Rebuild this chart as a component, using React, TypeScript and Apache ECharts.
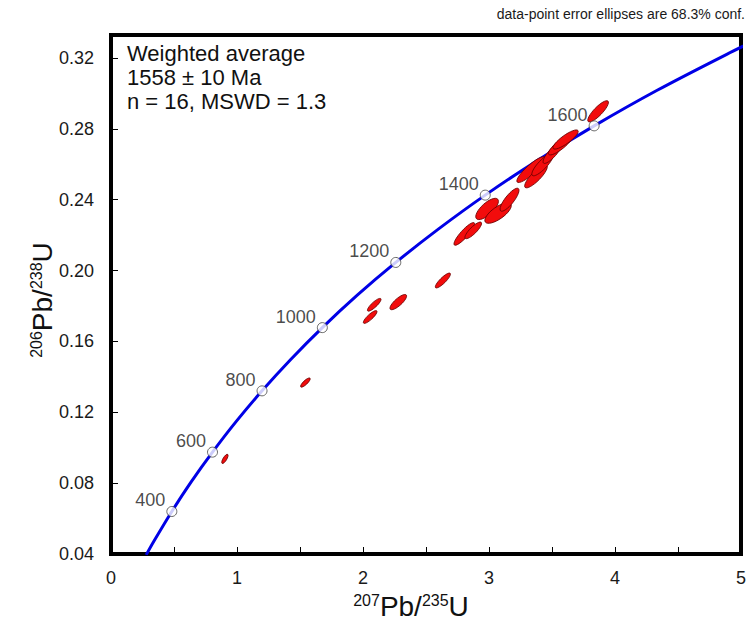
import React, { useEffect, useRef } from "react";
import * as echarts from "echarts";

// Concordia age markers (Ma) and their ratios
const AGES = [400, 600, 800, 1000, 1200, 1400, 1600];
const AGE_X = [0.4828, 0.8056, 1.1987, 1.6774, 2.2603, 2.9701, 3.8344];
const AGE_Y = [0.064, 0.0975, 0.1321, 0.1678, 0.2046, 0.2426, 0.2817];

// Concordia curve points (250 Ma .. 1850 Ma)
const CURVE_X = [0.2792, 0.3437, 0.4828, 0.6363, 0.8056, 0.9925, 1.1987, 1.4263, 1.6774, 1.9545, 2.2603, 2.5977, 2.9701, 3.381, 3.8344, 4.3348, 4.8869, 5.184];
const CURVE_Y = [0.0395, 0.0476, 0.064, 0.0807, 0.0975, 0.1147, 0.1321, 0.1498, 0.1678, 0.1861, 0.2046, 0.2234, 0.2426, 0.262, 0.2817, 0.3018, 0.3221, 0.3324];

// Data-point error ellipses: centre, 1-sigma half widths, error correlation
const ELL_X = [0.904, 1.543, 2.057, 2.089, 2.28, 2.634, 2.804, 2.875, 2.985, 3.072, 3.163, 3.333, 3.373, 3.425, 3.504, 3.569, 3.608, 3.866];
const ELL_Y = [0.0937, 0.1368, 0.1738, 0.1807, 0.1822, 0.1944, 0.2207, 0.2227, 0.2348, 0.2325, 0.24, 0.257, 0.2532, 0.2598, 0.2664, 0.2711, 0.274, 0.2899];
const ELL_SX = [0.025, 0.038, 0.054, 0.054, 0.066, 0.06, 0.082, 0.066, 0.09, 0.105, 0.075, 0.112, 0.09, 0.085, 0.075, 0.097, 0.1, 0.082];
const ELL_SY = [0.0026, 0.0026, 0.0036, 0.0036, 0.0043, 0.0042, 0.0064, 0.0047, 0.006, 0.0058, 0.0065, 0.0073, 0.0065, 0.0063, 0.0059, 0.0058, 0.0054, 0.006];
const ELL_RHO = [0.75, 0.82, 0.85, 0.85, 0.8, 0.86, 0.88, 0.84, 0.72, 0.72, 0.82, 0.88, 0.84, 0.84, 0.84, 0.85, 0.85, 0.84];

const X_MIN = 0;
const X_MAX = 5;
const X_INTERVAL = 0.5;
const Y_MIN = 0.04;
const Y_MAX = 0.333;
const Y_INTERVAL = 0.04;

const FONT = "'Liberation Sans', Arial, Helvetica, sans-serif";

export default function App() {
  const ref = useRef<HTMLDivElement>(null);

  useEffect(() => {
    if (!ref.current) return;
    const chart = echarts.init(ref.current, null, { renderer: "svg" });

    const curveData = CURVE_X.map((x, i) => [x, CURVE_Y[i]]);
    const ageData = AGE_X.map((x, i) => [x, AGE_Y[i], AGES[i]]);
    const ellData = ELL_X.map((x, i) => [x, ELL_Y[i], ELL_SX[i], ELL_SY[i], ELL_RHO[i]]);

    const option: any = {
      animation: false,
      backgroundColor: "#ffffff",
      grid: {
        left: 111,
        right: 2,
        top: 35,
        bottom: 70,
        show: true,
        borderColor: "#000000",
        borderWidth: 4,
        backgroundColor: "transparent",
      },
      xAxis: {
        type: "value",
        min: X_MIN,
        max: X_MAX,
        interval: X_INTERVAL,
        axisLine: { show: false },
        splitLine: { show: false },
        axisTick: { show: true, inside: true, length: 7, lineStyle: { color: "#000", width: 1 } },
        axisLabel: {
          margin: 15,
          fontFamily: FONT,
          fontSize: 18,
          color: "#1a1a1a",
          formatter: (v: number) => (Math.abs(v - Math.round(v)) < 1e-9 ? String(Math.round(v)) : ""),
        },
      },
      yAxis: {
        type: "value",
        min: Y_MIN,
        max: Y_MAX,
        interval: Y_INTERVAL,
        axisLine: { show: false },
        splitLine: { show: false },
        axisTick: { show: true, inside: true, length: 7, lineStyle: { color: "#000", width: 1 } },
        axisLabel: {
          margin: 17,
          fontFamily: FONT,
          fontSize: 18,
          color: "#1a1a1a",
          showMaxLabel: false,
          formatter: (v: number) => {
            const k = v / Y_INTERVAL;
            return Math.abs(k - Math.round(k)) < 1e-6 ? v.toFixed(2) : "";
          },
        },
      },
      graphic: [
        {
          type: "text",
          right: 4,
          top: 7,
          style: { text: "data-point error ellipses are 68.3% conf.", fontFamily: FONT, fontSize: 14, fill: "#1a1a1a" },
        },
        {
          type: "text",
          left: 127,
          top: 41,
          style: {
            text: "Weighted average\n1558 ± 10 Ma\nn = 16, MSWD = 1.3",
            fontFamily: FONT,
            fontSize: 22,
            lineHeight: 24,
            fill: "#111",
          },
        },
        {
          type: "text",
          x: 411,
          y: 606,
          style: {
            text: "{sup|207}{main|Pb/}{sup|235}{main|U}",
            align: "center",
            verticalAlign: "middle",
            rich: {
              main: { fontFamily: FONT, fontSize: 28, fill: "#111", verticalAlign: "bottom" },
              sup: { fontFamily: FONT, fontSize: 16, fill: "#111", verticalAlign: "top" },
            },
          },
        },
        {
          type: "text",
          x: 42,
          y: 300,
          rotation: Math.PI / 2,
          style: {
            text: "{sup|206}{main|Pb/}{sup|238}{main|U}",
            align: "center",
            verticalAlign: "middle",
            rich: {
              main: { fontFamily: FONT, fontSize: 28, fill: "#111", verticalAlign: "bottom" },
              sup: { fontFamily: FONT, fontSize: 16, fill: "#111", verticalAlign: "top" },
            },
          },
        },
      ],
      series: [
        {
          type: "line",
          data: curveData,
          showSymbol: false,
          smooth: 0.3,
          clip: true,
          lineStyle: { color: "#0000e6", width: 3 },
          z: 2,
        },
        {
          type: "custom",
          data: ellData,
          encode: { x: 0, y: 1 },
          z: 3,
          renderItem: (params: any, api: any) => {
            const cx = api.value(0);
            const cy = api.value(1);
            const sx = api.value(2);
            const sy = api.value(3);
            const rho = api.value(4);
            const c = api.coord([cx, cy]);
            const s = api.size([sx, sy]);
            const a = s[0];
            const b = s[1];
            const cov = rho * a * b;
            const t = (a * a + b * b) / 2;
            const h = (a * a - b * b) / 2;
            const d = Math.sqrt(h * h + cov * cov);
            const rx = Math.sqrt(Math.max(t + d, 0.01));
            const ry = Math.sqrt(Math.max(t - d, 0.01));
            const phi = 0.5 * Math.atan2(2 * cov, a * a - b * b);
            return {
              type: "ellipse",
              x: c[0],
              y: c[1],
              rotation: phi,
              shape: { cx: 0, cy: 0, rx, ry },
              style: { fill: "#f20c0c", stroke: "#6a0000", lineWidth: 0.8 },
            };
          },
        },
        {
          type: "scatter",
          data: ageData,
          encode: { x: 0, y: 1 },
          symbol: "circle",
          symbolSize: 10,
          z: 4,
          itemStyle: { color: "#ffffff", borderColor: "#444444", borderWidth: 1 },
          label: {
            show: true,
            position: "left",
            distance: 1,
            offset: [0, -11],
            fontFamily: FONT,
            fontSize: 18,
            color: "#1a1a1a",
            formatter: (p: any) => String(p.value[2]),
          },
        },
      ],
    };

    chart.setOption(option);
    return () => chart.dispose();
  }, []);

  return (
    <div
      ref={ref}
      style={{ position: "fixed", left: 0, top: 0, width: 749, height: 624, background: "#fff" }}
    />
  );
}
